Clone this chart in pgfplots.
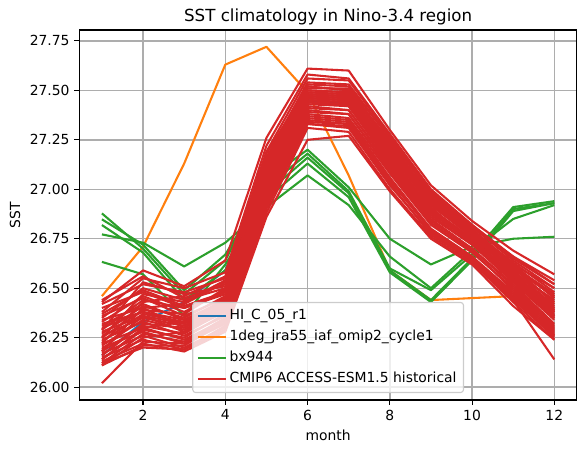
\documentclass[border=0pt]{standalone}
\usepackage{fontspec}
\setmainfont{DejaVu Sans}
\usepackage{pgfplots}
\pgfplotsset{compat=1.18}
\definecolor{tabblue}{HTML}{1F77B4}
\definecolor{taborange}{HTML}{FF7F0E}
\definecolor{tabgreen}{HTML}{2CA02C}
\definecolor{tabred}{HTML}{D62728}
\definecolor{gridgray}{HTML}{ADADAD}
\definecolor{leggray}{HTML}{CCCCCC}
\begin{document}
\fontsize{10}{12}\selectfont
\begin{tikzpicture}
\begin{axis}[
  at={(0,0)}, anchor=south west,
  scale only axis, width=358.3pt, height=266.4pt,
  xmin=0.45, xmax=12.55, ymin=25.935, ymax=27.805,
  xtick={2,4,6,8,10,12},
  ytick={26,26.25,26.5,26.75,27,27.25,27.5,27.75},
  yticklabel style={/pgf/number format/.cd, fixed, fixed zerofill, precision=2},
  /pgf/number format/assume math mode=true,
  xtick pos=bottom, ytick pos=left,
  tick align=outside, major tick length=3.5pt,
  tick style={draw=black, line width=0.8pt},
  tick label style={font=\fontsize{10}{12}\selectfont},
  axis line style={line width=0.8pt},
  xmajorgrids=true, ymajorgrids=true,
  major grid style={draw=gridgray, line width=1pt},
  xlabel={month}, ylabel={SST},
  label style={font=\fontsize{10}{12}\selectfont},
  title={SST climatology in Nino-3.4 region},
  title style={anchor=base, font=\fontsize{12}{14}\selectfont},
  legend cell align=left,
  legend image code/.code={\draw[#1] (0pt,0pt) -- (20pt,0pt);},
  legend style={at={(0.5,0)}, anchor=south, yshift=5pt, draw=leggray, line width=0.8pt,
    rounded corners=2pt, fill=white, fill opacity=0.8, text opacity=1,
    font=\fontsize{10}{12}\selectfont, inner xsep=3pt, inner ysep=2pt, row sep=0pt,
    nodes={text height=7.5pt, text depth=2.5pt, inner ysep=2.6pt}},
  every axis plot/.append style={line width=1.5pt, line join=round},
]
% HI_C_05_r1
\addplot[tabblue] coordinates {(1,26.16)(2,26.33)(3,26.43)(4,26.59)(5,27.10)(6,27.45)(7,27.43)(8,27.20)(9,26.98)(10,26.76)(11,26.55)(12,26.36)};
\addlegendentry{HI\_C\_05\_r1}
% 1deg_jra55_iaf_omip2_cycle1
\addplot[taborange] coordinates {(1,26.46)(2,26.71)(3,27.13)(4,27.63)(5,27.72)(6,27.49)(7,27.07)(8,26.59)(9,26.44)(10,26.45)(11,26.46)(12,26.43)};
\addlegendentry{1deg\_jra55\_iaf\_omip2\_cycle1}
% bx944
\addplot[tabgreen] coordinates {(1,26.878)(2,26.70)(3,26.47)(4,26.64)(5,27.05)(6,27.20)(7,27.01)(8,26.75)(9,26.62)(10,26.71)(11,26.75)(12,26.76)};
\addlegendentry{bx944}
\addplot[tabgreen, forget plot] coordinates {(1,26.848)(2,26.72)(3,26.49)(4,26.67)(5,27.01)(6,27.18)(7,26.99)(8,26.60)(9,26.49)(10,26.67)(11,26.91)(12,26.94)};
\addplot[tabgreen, forget plot] coordinates {(1,26.819)(2,26.68)(3,26.44)(4,26.59)(5,26.98)(6,27.16)(7,26.98)(8,26.59)(9,26.44)(10,26.65)(11,26.90)(12,26.93)};
\addplot[tabgreen, forget plot] coordinates {(1,26.772)(2,26.73)(3,26.61)(4,26.73)(5,26.91)(6,27.07)(7,26.92)(8,26.66)(9,26.50)(10,26.69)(11,26.85)(12,26.92)};
\addplot[tabgreen, forget plot] coordinates {(1,26.633)(2,26.57)(3,26.36)(4,26.62)(5,26.95)(6,27.13)(7,26.96)(8,26.58)(9,26.43)(10,26.64)(11,26.89)(12,26.93)};
% CMIP6 ACCESS-ESM1.5 historical
\addplot[tabred] coordinates {(1,26.44)(2,26.56)(3,26.45)(4,26.52)(5,27.18)(6,27.52)(7,27.50)(8,27.22)(9,26.95)(10,26.80)(11,26.62)(12,26.50)};
\addlegendentry{CMIP6 ACCESS-ESM1.5 historical}
\addplot[tabred, forget plot] coordinates {(1,26.43)(2,26.59)(3,26.51)(4,26.64)(5,27.26)(6,27.61)(7,27.60)(8,27.30)(9,27.02)(10,26.84)(11,26.69)(12,26.57)};
\addplot[tabred, forget plot] coordinates {(1,26.42)(2,26.52)(3,26.48)(4,26.55)(5,27.14)(6,27.50)(7,27.49)(8,27.25)(9,26.98)(10,26.81)(11,26.66)(12,26.54)};
\addplot[tabred, forget plot] coordinates {(1,26.40)(2,26.48)(3,26.40)(4,26.47)(5,27.08)(6,27.46)(7,27.45)(8,27.18)(9,26.92)(10,26.78)(11,26.60)(12,26.46)};
\addplot[tabred, forget plot] coordinates {(1,26.38)(2,26.55)(3,26.50)(4,26.58)(5,27.22)(6,27.58)(7,27.56)(8,27.28)(9,27.00)(10,26.82)(11,26.65)(12,26.52)};
\addplot[tabred, forget plot] coordinates {(1,26.36)(2,26.45)(3,26.36)(4,26.45)(5,27.02)(6,27.44)(7,27.42)(8,27.15)(9,26.88)(10,26.74)(11,26.56)(12,26.40)};
\addplot[tabred, forget plot] coordinates {(1,26.35)(2,26.50)(3,26.44)(4,26.50)(5,27.10)(6,27.48)(7,27.47)(8,27.20)(9,26.94)(10,26.79)(11,26.63)(12,26.48)};
\addplot[tabred, forget plot] coordinates {(1,26.34)(2,26.40)(3,26.30)(4,26.40)(5,27.00)(6,27.42)(7,27.40)(8,27.12)(9,26.86)(10,26.72)(11,26.54)(12,26.36)};
\addplot[tabred, forget plot] coordinates {(1,26.33)(2,26.46)(3,26.38)(4,26.49)(5,27.12)(6,27.51)(7,27.51)(8,27.24)(9,26.96)(10,26.77)(11,26.58)(12,26.44)};
\addplot[tabred, forget plot] coordinates {(1,26.31)(2,26.42)(3,26.34)(4,26.44)(5,27.04)(6,27.45)(7,27.44)(8,27.16)(9,26.90)(10,26.75)(11,26.57)(12,26.38)};
\addplot[tabred, forget plot] coordinates {(1,26.30)(2,26.38)(3,26.32)(4,26.42)(5,27.06)(6,27.47)(7,27.46)(8,27.19)(9,26.91)(10,26.73)(11,26.55)(12,26.35)};
\addplot[tabred, forget plot] coordinates {(1,26.29)(2,26.44)(3,26.40)(4,26.48)(5,27.15)(6,27.53)(7,27.52)(8,27.26)(9,26.97)(10,26.80)(11,26.61)(12,26.42)};
\addplot[tabred, forget plot] coordinates {(1,26.28)(2,26.36)(3,26.28)(4,26.38)(5,26.98)(6,27.40)(7,27.38)(8,27.10)(9,26.84)(10,26.70)(11,26.52)(12,26.32)};
\addplot[tabred, forget plot] coordinates {(1,26.27)(2,26.41)(3,26.35)(4,26.46)(5,27.08)(6,27.49)(7,27.48)(8,27.21)(9,26.93)(10,26.76)(11,26.59)(12,26.41)};
\addplot[tabred, forget plot] coordinates {(1,26.26)(2,26.35)(3,26.31)(4,26.41)(5,27.03)(6,27.46)(7,27.45)(8,27.17)(9,26.89)(10,26.74)(11,26.56)(12,26.37)};
\addplot[tabred, forget plot] coordinates {(1,26.25)(2,26.39)(3,26.37)(4,26.50)(5,27.11)(6,27.50)(7,27.49)(8,27.23)(9,26.95)(10,26.78)(11,26.62)(12,26.45)};
\addplot[tabred, forget plot] coordinates {(1,26.24)(2,26.33)(3,26.26)(4,26.36)(5,26.96)(6,27.38)(7,27.36)(8,27.08)(9,26.82)(10,26.68)(11,26.50)(12,26.30)};
\addplot[tabred, forget plot] coordinates {(1,26.23)(2,26.37)(3,26.33)(4,26.43)(5,27.05)(6,27.47)(7,27.46)(8,27.18)(9,26.92)(10,26.76)(11,26.58)(12,26.39)};
\addplot[tabred, forget plot] coordinates {(1,26.22)(2,26.30)(3,26.24)(4,26.34)(5,26.95)(6,27.37)(7,27.35)(8,27.06)(9,26.80)(10,26.66)(11,26.48)(12,26.28)};
\addplot[tabred, forget plot] coordinates {(1,26.21)(2,26.34)(3,26.29)(4,26.40)(5,27.02)(6,27.44)(7,27.43)(8,27.14)(9,26.88)(10,26.73)(11,26.55)(12,26.36)};
\addplot[tabred, forget plot] coordinates {(1,26.20)(2,26.28)(3,26.22)(4,26.32)(5,26.92)(6,27.34)(7,27.33)(8,27.05)(9,26.79)(10,26.65)(11,26.46)(12,26.26)};
\addplot[tabred, forget plot] coordinates {(1,26.19)(2,26.36)(3,26.32)(4,26.45)(5,27.07)(6,27.48)(7,27.47)(8,27.20)(9,26.93)(10,26.77)(11,26.60)(12,26.43)};
\addplot[tabred, forget plot] coordinates {(1,26.18)(2,26.31)(3,26.27)(4,26.39)(5,27.00)(6,27.43)(7,27.42)(8,27.13)(9,26.87)(10,26.72)(11,26.53)(12,26.34)};
\addplot[tabred, forget plot] coordinates {(1,26.17)(2,26.26)(3,26.20)(4,26.30)(5,26.90)(6,27.33)(7,27.31)(8,27.02)(9,26.78)(10,26.64)(11,26.45)(12,26.25)};
\addplot[tabred, forget plot] coordinates {(1,26.16)(2,26.32)(3,26.30)(4,26.42)(5,27.04)(6,27.46)(7,27.45)(8,27.17)(9,26.90)(10,26.74)(11,26.57)(12,26.38)};
\addplot[tabred, forget plot] coordinates {(1,26.15)(2,26.24)(3,26.19)(4,26.29)(5,26.88)(6,27.31)(7,27.29)(8,27.00)(9,26.76)(10,26.63)(11,26.43)(12,26.24)};
\addplot[tabred, forget plot] coordinates {(1,26.14)(2,26.29)(3,26.25)(4,26.37)(5,26.99)(6,27.41)(7,27.40)(8,27.11)(9,26.85)(10,26.70)(11,26.51)(12,26.31)};
\addplot[tabred, forget plot] coordinates {(1,26.13)(2,26.22)(3,26.18)(4,26.28)(5,26.86)(6,27.25)(7,27.27)(8,26.99)(9,26.75)(10,26.62)(11,26.41)(12,26.24)};
\addplot[tabred, forget plot] coordinates {(1,26.12)(2,26.27)(3,26.23)(4,26.35)(5,26.97)(6,27.39)(7,27.38)(8,27.09)(9,26.83)(10,26.69)(11,26.49)(12,26.29)};
\addplot[tabred, forget plot] coordinates {(1,26.11)(2,26.21)(3,26.21)(4,26.33)(5,26.94)(6,27.36)(7,27.34)(8,27.04)(9,26.80)(10,26.66)(11,26.47)(12,26.27)};
\addplot[tabred, forget plot] coordinates {(1,26.11)(2,26.25)(3,26.28)(4,26.40)(5,27.01)(6,27.44)(7,27.43)(8,27.15)(9,26.89)(10,26.73)(11,26.54)(12,26.35)};
\addplot[tabred, forget plot] coordinates {(1,26.12)(2,26.20)(3,26.19)(4,26.31)(5,26.91)(6,27.33)(7,27.32)(8,27.03)(9,26.77)(10,26.64)(11,26.44)(12,26.26)};
\addplot[tabred, forget plot] coordinates {(1,26.14)(2,26.30)(3,26.33)(4,26.44)(5,27.06)(6,27.48)(7,27.47)(8,27.19)(9,26.92)(10,26.76)(11,26.59)(12,26.40)};
\addplot[tabred, forget plot] coordinates {(1,26.18)(2,26.40)(3,26.42)(4,26.53)(5,27.16)(6,27.54)(7,27.53)(8,27.26)(9,26.98)(10,26.81)(11,26.64)(12,26.50)};
\addplot[tabred, forget plot] coordinates {(1,26.22)(2,26.43)(3,26.46)(4,26.56)(5,27.19)(6,27.56)(7,27.55)(8,27.27)(9,26.99)(10,26.82)(11,26.66)(12,26.52)};
\addplot[tabred, forget plot] coordinates {(1,26.25)(2,26.47)(3,26.43)(4,26.54)(5,27.13)(6,27.52)(7,27.50)(8,27.23)(9,26.96)(10,26.79)(11,26.61)(12,26.47)};
\addplot[tabred, forget plot] coordinates {(1,26.29)(2,26.53)(3,26.47)(4,26.51)(5,27.09)(6,27.49)(7,27.48)(8,27.21)(9,26.94)(10,26.78)(11,26.62)(12,26.45)};
\addplot[tabred, forget plot] coordinates {(1,26.32)(2,26.38)(3,26.34)(4,26.43)(5,27.03)(6,27.45)(7,27.44)(8,27.16)(9,26.90)(10,26.75)(11,26.56)(12,26.39)};
\addplot[tabred, forget plot] coordinates {(1,26.02)(2,26.23)(3,26.22)(4,26.34)(5,26.93)(6,27.35)(7,27.33)(8,27.05)(9,26.79)(10,26.65)(11,26.44)(12,26.14)};
\addplot[tabred, forget plot] coordinates {(1,26.37)(2,26.49)(3,26.41)(4,26.48)(5,27.07)(6,27.47)(7,27.46)(8,27.20)(9,26.93)(10,26.77)(11,26.60)(12,26.46)};
\end{axis}
\pgfresetboundingbox
\useasboundingbox (-57.1pt,-38.2pt) rectangle (364.1pt,288pt);
\end{tikzpicture}
\end{document}
